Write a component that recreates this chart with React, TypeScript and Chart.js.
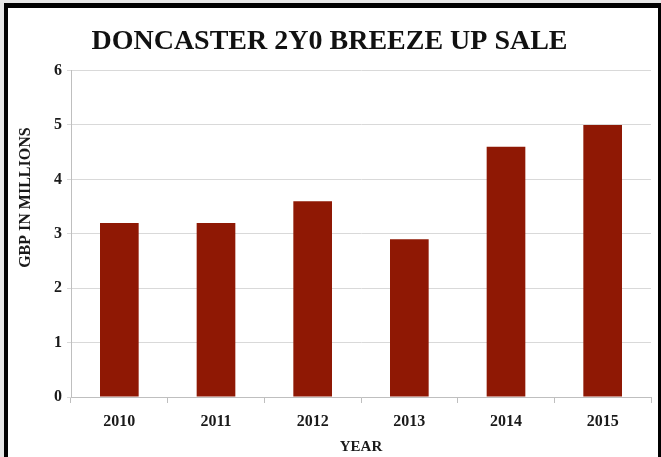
import { useEffect, useRef } from "react";
import { Chart, registerables } from "chart.js";

Chart.register(...registerables);

const categories = ["2010", "2011", "2012", "2013", "2014", "2015"];
const salesValues = [3.2, 3.2, 3.6, 2.9, 4.6, 5.0];
const yTickValues = [0, 1, 2, 3, 4, 5, 6];
const chartTitle = "DONCASTER 2Y0 BREEZE UP SALE";
const xAxisTitle = "YEAR";
const yAxisTitle = "GBP IN MILLIONS";

const FONT = "'Liberation Serif', 'Times New Roman', serif";

export default function App() {
  const ref = useRef<HTMLCanvasElement>(null);

  useEffect(() => {
    document.body.style.margin = "0";
    document.body.style.background = "#e6e6e6";
    document.body.style.overflow = "hidden";

    const yTitlePlugin = {
      id: "yTitle",
      afterDraw(chart: any) {
        const { ctx, chartArea } = chart;
        ctx.save();
        ctx.translate(chartArea.left - 45, chartArea.top + 127);
        ctx.rotate(-Math.PI / 2);
        ctx.font = `bold 16px ${FONT}`;
        ctx.fillStyle = "#1a1a1a";
        ctx.textAlign = "center";
        ctx.textBaseline = "middle";
        ctx.fillText(yAxisTitle, 0, 0);
        ctx.restore();
      },
    };

    const chart = new Chart(ref.current as HTMLCanvasElement, {
      type: "bar",
      data: {
        labels: categories,
        datasets: [
          {
            data: salesValues,
            backgroundColor: "#8f1804",
            categoryPercentage: 1,
            barPercentage: 0.4,
          },
        ],
      },
      options: {
        animation: false,
        responsive: false,
        layout: { padding: { left: 0, right: 7, top: 0, bottom: 0 } },
        plugins: {
          legend: { display: false },
          tooltip: { enabled: false },
          title: {
            display: true,
            text: chartTitle,
            color: "#111",
            font: { family: FONT, size: 28, weight: "bold" },
            padding: { top: 17, bottom: 12 },
          },
        },
        scales: {
          x: {
            grid: {
              display: true,
              drawOnChartArea: false,
              drawTicks: true,
              tickLength: 6,
              color: "#bfbfbf",
              offset: true,
            },
            border: { display: true, color: "#bfbfbf" },
            ticks: {
              color: "#1a1a1a",
              font: { family: FONT, size: 16, weight: "bold" },
              padding: 9,
            },
            title: {
              display: true,
              text: xAxisTitle,
              color: "#1a1a1a",
              font: { family: FONT, size: 15, weight: "bold" },
              padding: { top: 0, bottom: 1 },
            },
            afterFit(scale: any) {
              scale.height = 60;
            },
          },
          y: {
            min: yTickValues[0],
            max: yTickValues[yTickValues.length - 1],
            ticks: {
              stepSize: 1,
              color: "#1a1a1a",
              font: { family: FONT, size: 16, weight: "bold" },
              padding: 5,
            },
            grid: { color: "#d9d9d9", tickLength: 4 },
            border: { display: true, color: "#bfbfbf" },
            afterFit(scale: any) {
              scale.width = 63;
            },
          },
        },
      },
      plugins: [yTitlePlugin],
    } as any);

    return () => chart.destroy();
  }, []);

  return (
    <div
      style={{
        position: "fixed",
        left: 4,
        top: 3,
        width: 657,
        height: 454,
        borderLeft: "4px solid #000",
        borderTop: "5px solid #000",
        borderRight: "3px solid #000",
        background: "#fff",
        boxSizing: "border-box",
        overflow: "hidden",
      }}
    >
      <canvas ref={ref} width={650} height={449} style={{ display: "block" }} />
    </div>
  );
}
